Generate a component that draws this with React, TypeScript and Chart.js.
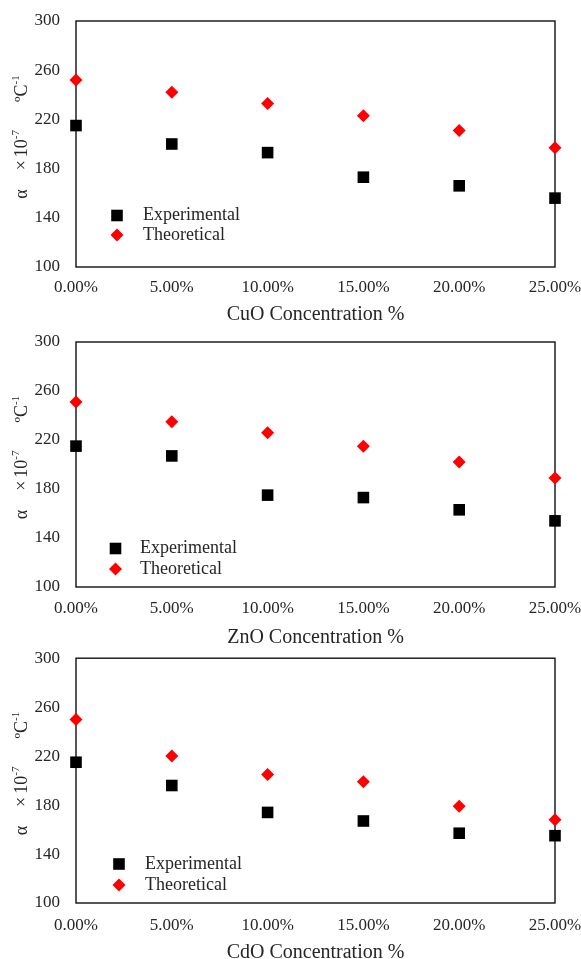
import { useEffect, useRef } from 'react';
import { Chart, registerables } from 'chart.js';

Chart.register(...registerables);

// ---- data ----
const concentrations = [0, 0.05, 0.1, 0.15, 0.2, 0.25];
const seriesLabels = ['Experimental', 'Theoretical'];
const xTitles = ['CuO Concentration %', 'ZnO Concentration %', 'CdO Concentration %'];
const yTickMin = 100;
const yTickMax = 300;
const yTickStep = 40;
const xTickStep = 0.05;

const cuoExperimental = [215, 200, 193, 173, 166, 156];
const cuoTheoretical = [252, 242, 233, 223, 211, 197];
const znoExperimental = [215, 207, 175, 173, 163, 154];
const znoTheoretical = [251, 235, 226, 215, 202, 189];
const cdoExperimental = [215, 196, 174, 167, 157, 155];
const cdoTheoretical = [250, 220, 205, 199, 179, 168];

// ---- layout / style ----
const W = 581;
const FONT = "'Liberation Serif', 'Times New Roman', serif";
const TEXT = '#262626';

const panels = [
  {
    xTitle: xTitles[0], exp: cuoExperimental, theo: cuoTheoretical,
    top: 0, height: 330, padTop: 21, axisH: 63, tickPad: 10.5, titlePad: 3,
    legend: { markerX: 117, textX: 143, rows: [215.5, 235] },
  },
  {
    xTitle: xTitles[1], exp: znoExperimental, theo: znoTheoretical,
    top: 330, height: 320, padTop: 12, axisH: 63, tickPad: 11, titlePad: 0.5,
    legend: { markerX: 115.5, textX: 140, rows: [218.5, 239] },
  },
  {
    xTitle: xTitles[2], exp: cdoExperimental, theo: cdoTheoretical,
    top: 650, height: 320, padTop: 8, axisH: 67, tickPad: 12, titlePad: 5.5,
    legend: { markerX: 119, textX: 145, rows: [214, 235] },
  },
];

const boxPlugin = {
  id: 'box',
  beforeDatasetsDraw(chart: any) {
    const { ctx, chartArea: a } = chart;
    ctx.save();
    ctx.strokeStyle = '#111';
    ctx.lineWidth = 1.4;
    ctx.strokeRect(a.left, a.top, a.right - a.left, a.bottom - a.top);
    ctx.restore();
  },
};

function drawMarker(ctx: CanvasRenderingContext2D, style: string, x: number, y: number, r: number, color: string) {
  ctx.fillStyle = color;
  ctx.beginPath();
  if (style === 'rect') {
    const s = Math.SQRT1_2 * r;
    ctx.rect(x - s, y - s, 2 * s, 2 * s);
  } else {
    ctx.moveTo(x, y - r);
    ctx.lineTo(x + r, y);
    ctx.lineTo(x, y + r);
    ctx.lineTo(x - r, y);
    ctx.closePath();
  }
  ctx.fill();
}

const legendPlugin = {
  id: 'innerLegend',
  afterDatasetsDraw(chart: any, _args: any, opts: any) {
    const { ctx } = chart;
    ctx.save();
    chart.data.datasets.forEach((ds: any, i: number) => {
      const y = opts.rows[i];
      drawMarker(ctx, ds.pointStyle, opts.markerX, y, ds.pointRadius, ds.backgroundColor);
      ctx.fillStyle = TEXT;
      ctx.font = `18px ${FONT}`;
      ctx.textAlign = 'left';
      ctx.textBaseline = 'middle';
      ctx.fillText(ds.label, opts.textX, y);
    });
    ctx.restore();
  },
};

const yTitlePlugin = {
  id: 'yTitle',
  afterDraw(chart: any) {
    const { ctx, chartArea: a } = chart;
    const segs = [
      { t: 'α', size: 18, raise: 0, gap: 0 },
      { t: '×', size: 18, raise: 0, gap: 19 },
      { t: '10', size: 18, raise: 0, gap: 3 },
      { t: '-7', size: 11, raise: 8, gap: 0 },
      { t: 'ºC', size: 18, raise: 0, gap: 28 },
      { t: '-1', size: 11, raise: 8, gap: 0 },
    ];
    ctx.save();
    let total = 0;
    const widths = segs.map((s) => {
      ctx.font = `${s.size}px ${FONT}`;
      const w = ctx.measureText(s.t).width;
      total += w + s.gap;
      return w;
    });
    const cy = (a.top + a.bottom) / 2 - 7;
    ctx.translate(27, cy);
    ctx.rotate(-Math.PI / 2);
    ctx.fillStyle = TEXT;
    ctx.textAlign = 'left';
    ctx.textBaseline = 'alphabetic';
    let u = -total / 2;
    segs.forEach((s, i) => {
      u += s.gap;
      ctx.font = `${s.size}px ${FONT}`;
      ctx.fillText(s.t, u, -s.raise);
      u += widths[i];
    });
    ctx.restore();
  },
};

const zeroPad = (s: any) => {
  s.paddingTop = 0;
  s.paddingBottom = 0;
  s.paddingLeft = 0;
  s.paddingRight = 0;
};

function Panel({ p }: { p: (typeof panels)[number] }) {
  const ref = useRef<HTMLCanvasElement | null>(null);
  useEffect(() => {
    if (!ref.current) return;
    const chart = new Chart(ref.current, {
      type: 'scatter',
      data: {
        datasets: [
          {
            label: seriesLabels[0],
            data: concentrations.map((x, i) => ({ x, y: p.exp[i] })),
            pointStyle: 'rect',
            pointRadius: 8.2,
            backgroundColor: '#000000',
            borderWidth: 0,
            clip: false as any,
          },
          {
            label: seriesLabels[1],
            data: concentrations.map((x, i) => ({ x, y: p.theo[i] })),
            pointStyle: 'rectRot',
            pointRadius: 6.5,
            backgroundColor: '#ff0000',
            borderWidth: 0,
            clip: false as any,
          },
        ],
      },
      options: {
        responsive: false,
        animation: false,
        events: [],
        layout: { padding: { top: p.padTop, right: W - 555, left: 0, bottom: 0 } },
        plugins: {
          legend: { display: false },
          tooltip: { enabled: false },
          innerLegend: p.legend,
        } as any,
        scales: {
          x: {
            type: 'linear',
            min: 0,
            max: 0.25,
            grid: { display: false, drawTicks: false },
            border: { display: false },
            ticks: {
              stepSize: xTickStep,
              padding: p.tickPad,
              maxRotation: 0,
              autoSkip: false,
              color: TEXT,
              font: { family: FONT, size: 17 },
              callback: (v: any) => (Number(v) * 100).toFixed(2) + '%',
            },
            title: {
              display: true,
              text: p.xTitle,
              color: TEXT,
              font: { family: FONT, size: 20 },
              padding: { top: 0, bottom: p.titlePad },
            },
            afterFit: (s: any) => { s.height = p.axisH; zeroPad(s); },
          },
          y: {
            type: 'linear',
            min: yTickMin,
            max: yTickMax,
            grid: { display: false, drawTicks: false },
            border: { display: false },
            ticks: {
              stepSize: yTickStep,
              padding: 16,
              color: TEXT,
              font: { family: FONT, size: 17 },
            },
            afterFit: (s: any) => { s.width = 76; zeroPad(s); },
          },
        },
      },
      plugins: [boxPlugin, legendPlugin, yTitlePlugin],
    });
    return () => chart.destroy();
  }, [p]);
  return (
    <div style={{ position: 'absolute', left: 0, top: p.top, width: W, height: p.height }}>
      <canvas ref={ref} width={W} height={p.height} style={{ display: 'block' }} />
    </div>
  );
}

export default function App() {
  return (
    <div style={{ position: 'absolute', left: 0, top: 0, width: W, height: 959, overflow: 'hidden', background: '#fff' }}>
      {panels.map((p, i) => (
        <Panel key={i} p={p} />
      ))}
    </div>
  );
}
